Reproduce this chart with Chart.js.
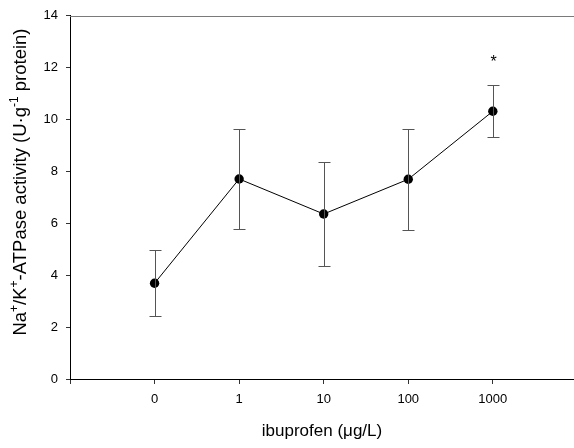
<!DOCTYPE html>
<html>
<head>
<meta charset="utf-8">
<script src="https://cdn.jsdelivr.net/npm/chart.js@4"></script>
<style>
  html, body { margin: 0; padding: 0; background: #fff; overflow: hidden; }
  #wrap { width: 574px; height: 448px; }
  canvas { display: block; }
</style>
</head>
<body>
<div id="wrap"><canvas id="chart" width="574" height="448"></canvas></div>
<script>
// data
const doses = ["0", "1", "10", "100", "1000"];
const activity = [3.69, 7.71, 6.36, 7.70, 10.32];
const errors = [1.28, 1.93, 2.01, 1.94, 1.01];
const marks = ["", "", "", "", "*"];
const yTicks = [0, 2, 4, 6, 8, 10, 12, 14];

// y title pieces, sup = superscript
const yTitle = [
    { t: "Na" }, { t: "+", sup: true }, { t: "/K" }, { t: "+", sup: true },
    { t: "-ATPase activity (U·g" }, { t: "-1", sup: true }, { t: " protein)" }
];

const points = activity.map((v, i) => ({ x: i, y: v }));
const FONT = "'Liberation Sans', Arial, sans-serif";

// error bars, top frame line, star, rotated y title
const extras = {
    id: "extras",
    afterDatasetsDraw(chart) {
        const ctx = chart.ctx;
        const xs = chart.scales.x;
        const ys = chart.scales.y;
        const area = chart.chartArea;

        ctx.save();
        ctx.strokeStyle = "#7a7a7a";
        ctx.lineWidth = 1;
        ctx.beginPath();
        ctx.moveTo(area.left, Math.round(area.top) + 0.5);
        ctx.lineTo(area.right, Math.round(area.top) + 0.5);
        ctx.stroke();

        ctx.strokeStyle = "#555";
        activity.forEach((v, i) => {
            const x = Math.round(xs.getPixelForValue(i)) + 0.5;
            const top = Math.round(ys.getPixelForValue(v + errors[i])) + 0.5;
            const bot = Math.round(ys.getPixelForValue(v - errors[i])) + 0.5;
            ctx.beginPath();
            ctx.moveTo(x, top); ctx.lineTo(x, bot);
            ctx.moveTo(x - 6, top); ctx.lineTo(x + 6, top);
            ctx.moveTo(x - 6, bot); ctx.lineTo(x + 6, bot);
            ctx.stroke();

            if (marks[i]) {
                ctx.fillStyle = "#000";
                ctx.font = "16px " + FONT;
                ctx.textAlign = "center";
                ctx.textBaseline = "middle";
                ctx.fillText(marks[i], x, top - 23);
            }
        });

        // y title with real superscripts
        const big = "18.5px " + FONT, small = "12px " + FONT;
        let total = 0;
        yTitle.forEach(p => {
            ctx.font = p.sup ? small : big;
            p.w = ctx.measureText(p.t).width;
            total += p.w;
        });
        ctx.translate(26, 182);
        ctx.rotate(-Math.PI / 2);
        ctx.fillStyle = "#000";
        ctx.textAlign = "left";
        ctx.textBaseline = "alphabetic";
        let cx = -total / 2;
        yTitle.forEach(p => {
            ctx.font = p.sup ? small : big;
            ctx.fillText(p.t, cx, p.sup ? -8 : 0);
            cx += p.w;
        });
        ctx.restore();
    }
};

new Chart(document.getElementById("chart"), {
    type: "scatter",
    data: {
        datasets: [{
            data: points,
            showLine: true,
            borderColor: "#000",
            borderWidth: 1,
            backgroundColor: "#000",
            pointRadius: 4.7,
            pointHoverRadius: 4.7,
            pointBorderWidth: 0
        }]
    },
    options: {
        responsive: false,
        animation: false,
        events: [],
        layout: { autoPadding: false, padding: { top: 14, right: 0, left: 0, bottom: 0 } },
        plugins: {
            legend: { display: false },
            tooltip: { enabled: false }
        },
        scales: {
            x: {
                type: "linear",
                min: -1,
                max: 4.96,
                afterFit: s => { s.height = 69; },
                afterBuildTicks: s => {
                    s.ticks = [-1, 0, 1, 2, 3, 4].map(v => ({ value: v }));
                },
                ticks: {
                    autoSkip: false,
                    maxRotation: 0,
                    padding: 8,
                    color: "#000",
                    font: { family: FONT, size: 13 },
                    callback: v => (v >= 0 && v < doses.length ? doses[v] : "")
                },
                grid: {
                    drawOnChartArea: false,
                    drawTicks: true,
                    tickLength: 5,
                    tickColor: "#333"
                },
                border: { color: "#000", width: 1 },
                title: {
                    display: true,
                    text: "ibuprofen (μg/L)",
                    color: "#000",
                    font: { family: FONT, size: 17 },
                    padding: { top: 0, bottom: 6 }
                }
            },
            y: {
                min: 0,
                max: 14,
                afterFit: s => { s.width = 70; },
                afterBuildTicks: s => {
                    s.ticks = yTicks.map(v => ({ value: v }));
                },
                ticks: {
                    padding: 8,
                    color: "#000",
                    font: { family: FONT, size: 13 }
                },
                grid: {
                    drawOnChartArea: false,
                    drawTicks: true,
                    tickLength: 4,
                    tickColor: "#333"
                },
                border: { color: "#000", width: 1 }
            }
        }
    },
    plugins: [extras]
});
</script>
</body>
</html>
